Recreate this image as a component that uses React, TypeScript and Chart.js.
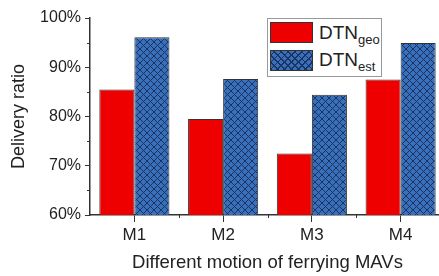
import React, { useEffect, useRef } from 'react';
import { Chart, registerables } from 'chart.js';

Chart.register(...registerables);

const categories = ['M1', 'M2', 'M3', 'M4'];
const geoValues = [85.5, 79.5, 72.5, 87.5];
const estValues = [96.1, 87.6, 84.4, 94.9];
const yTickValues = [60, 70, 80, 90, 100];
const seriesBase = ['DTN', 'DTN'];
const seriesSub = ['geo', 'est'];
const xTitle = 'Different motion of ferrying MAVs';
const yTitle = 'Delivery ratio';

const FONT = '"Liberation Sans", Arial, sans-serif';
const RED = '#ee0000';
const BLUE = '#3870bb';
const HATCH = '#1c3360';

function makePattern(): CanvasPattern | string {
  const n = 7;
  const c = document.createElement('canvas');
  c.width = n;
  c.height = n;
  const g = c.getContext('2d');
  if (!g) return BLUE;
  g.fillStyle = BLUE;
  g.fillRect(0, 0, n, n);
  g.strokeStyle = HATCH;
  g.lineWidth = 1;
  g.beginPath();
  g.moveTo(-1, -1);
  g.lineTo(n + 1, n + 1);
  g.moveTo(n + 1, -1);
  g.lineTo(-1, n + 1);
  g.stroke();
  return g.createPattern(c, 'repeat') || BLUE;
}

const minorTicks = {
  id: 'minorTicks',
  afterDraw(chart: any) {
    const ctx = chart.ctx;
    const xs = chart.scales.x;
    const ys = chart.scales.y;
    ctx.save();
    ctx.strokeStyle = '#333';
    ctx.lineWidth = 1;
    for (let i = 0; i < yTickValues.length - 1; i++) {
      const v = (yTickValues[i] + yTickValues[i + 1]) / 2;
      const py = Math.round(ys.getPixelForValue(v)) + 0.5;
      ctx.beginPath();
      ctx.moveTo(xs.left - 3, py);
      ctx.lineTo(xs.left, py);
      ctx.stroke();
    }
    for (let i = 0; i < categories.length - 1; i++) {
      const px = Math.round((xs.getPixelForTick(i) + xs.getPixelForTick(i + 1)) / 2) + 0.5;
      ctx.beginPath();
      ctx.moveTo(px, ys.bottom);
      ctx.lineTo(px, ys.bottom + 3);
      ctx.stroke();
    }
    ctx.restore();
  },
};

export default function App() {
  const ref = useRef<HTMLCanvasElement>(null);

  useEffect(() => {
    if (!ref.current) return;
    const pattern = makePattern();
    const chart = new Chart(ref.current, {
      type: 'bar',
      data: {
        labels: categories,
        datasets: [
          {
            label: seriesBase[0] + seriesSub[0],
            data: geoValues,
            backgroundColor: RED,
            borderColor: '#333',
            borderWidth: 1,
            categoryPercentage: 0.79,
            barPercentage: 1,
          },
          {
            label: seriesBase[1] + seriesSub[1],
            data: estValues,
            backgroundColor: pattern as any,
            borderColor: '#333',
            borderWidth: 1,
            categoryPercentage: 0.79,
            barPercentage: 1,
          },
        ],
      },
      options: {
        animation: false,
        responsive: false,
        maintainAspectRatio: false,
        layout: { padding: { left: 0, right: 5, top: 18, bottom: 0 } },
        plugins: { legend: { display: false }, tooltip: { enabled: false } },
        scales: {
          x: {
            afterFit: (s: any) => {
              s.height = 61;
            },
            border: { display: true, color: '#333', width: 1.5 },
            grid: {
              display: true,
              drawOnChartArea: false,
              offset: false,
              tickLength: 7,
              color: '#333',
              lineWidth: 1,
            },
            ticks: {
              color: '#222',
              font: { family: FONT, size: 17 },
              padding: 3,
            },
            title: {
              display: true,
              text: xTitle,
              color: '#222',
              font: { family: FONT, size: 18.5 },
              padding: { top: 0, bottom: 2 },
            },
          },
          y: {
            min: yTickValues[0],
            max: yTickValues[yTickValues.length - 1],
            afterFit: (s: any) => {
              s.width = 90;
            },
            afterBuildTicks: (s: any) => {
              s.ticks = yTickValues.map((v) => ({ value: v }));
            },
            border: { display: true, color: '#333', width: 1.5 },
            grid: {
              display: true,
              drawOnChartArea: false,
              tickLength: 5,
              color: '#333',
              lineWidth: 1,
            },
            ticks: {
              color: '#222',
              font: { family: FONT, size: 16 },
              padding: 4,
              callback: (v: any) => v + '%',
            },
            title: {
              display: true,
              text: yTitle,
              color: '#222',
              font: { family: FONT, size: 18 },
              padding: { top: 8, bottom: 0 },
            },
          },
        },
      },
      plugins: [minorTicks],
    });
    return () => chart.destroy();
  }, []);

  const swatchBase: React.CSSProperties = {
    position: 'absolute',
    left: 2,
    width: 43,
    height: 21,
    border: '1px solid #333',
    boxSizing: 'border-box',
  };
  const hatchBg =
    `repeating-linear-gradient(45deg, ${HATCH} 0 1px, transparent 1px 4.9px),` +
    `repeating-linear-gradient(-45deg, ${HATCH} 0 1px, transparent 1px 4.9px), ${BLUE}`;
  const textStyle: React.CSSProperties = {
    position: 'absolute',
    left: 51,
    fontFamily: FONT,
    fontSize: 19,
    color: '#222',
    lineHeight: '21px',
    whiteSpace: 'nowrap',
  };
  const subStyle: React.CSSProperties = {
    fontSize: 13,
    verticalAlign: '-5px',
    lineHeight: '0',
  };

  return (
    <div
      style={{
        position: 'fixed',
        left: 0,
        top: 0,
        width: 439,
        height: 276,
        overflow: 'hidden',
        background: '#fff',
      }}
    >
      <canvas ref={ref} width={450} height={276} style={{ display: 'block', width: 450, height: 276 }} />
      <div
        style={{
          position: 'absolute',
          left: 267,
          top: 18,
          width: 115,
          height: 59,
          border: '1px solid #999',
          boxSizing: 'border-box',
          background: '#fff',
        }}
      >
        <div style={{ ...swatchBase, top: 3, background: RED }} />
        <div style={{ ...textStyle, top: 3 }}>
          {seriesBase[0]}
          <span style={subStyle}>{seriesSub[0]}</span>
        </div>
        <div style={{ ...swatchBase, top: 31, background: hatchBg }} />
        <div style={{ ...textStyle, top: 30 }}>
          {seriesBase[1]}
          <span style={subStyle}>{seriesSub[1]}</span>
        </div>
      </div>
    </div>
  );
}
